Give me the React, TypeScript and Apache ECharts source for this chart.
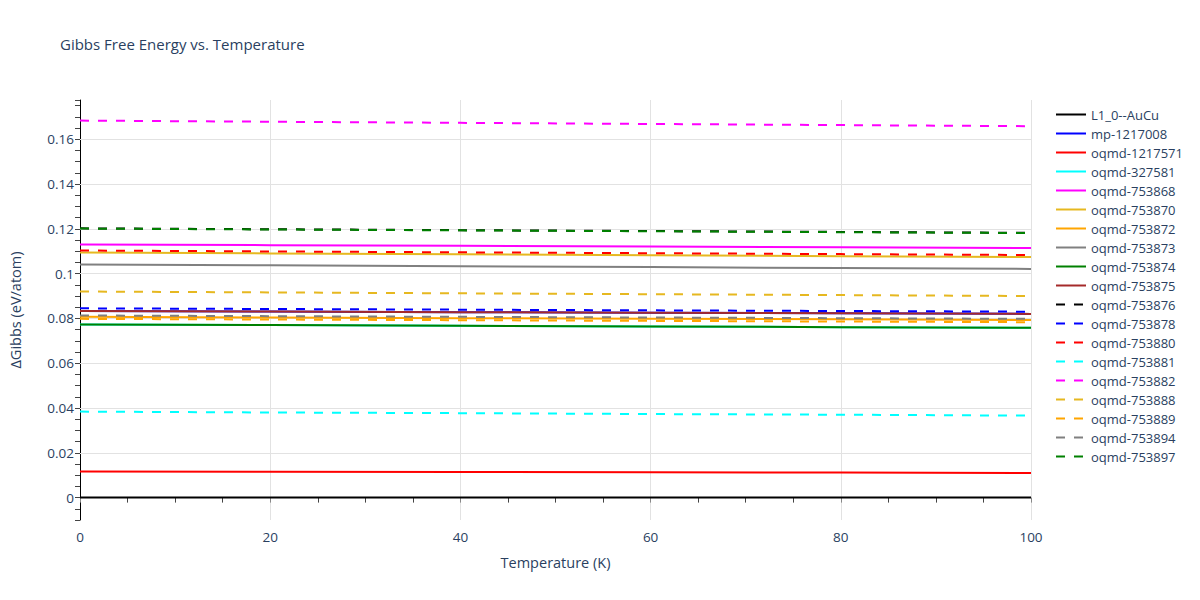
import React, { useEffect, useRef } from "react";
import * as echarts from "echarts";

const temperatures = [0, 20, 40, 60, 80, 100];

const seriesNames = [
  "L1_0--AuCu", "mp-1217008", "oqmd-1217571", "oqmd-327581", "oqmd-753868",
  "oqmd-753870", "oqmd-753872", "oqmd-753873", "oqmd-753874", "oqmd-753875",
  "oqmd-753876", "oqmd-753878", "oqmd-753880", "oqmd-753881", "oqmd-753882",
  "oqmd-753888", "oqmd-753889", "oqmd-753894", "oqmd-753897",
];

const vL1_0_AuCu = [0, 0, 0, 0, 0, 0];
const vMp1217008 = [0.0833, 0.0831, 0.0828, 0.0825, 0.0823, 0.082];
const vOqmd1217571 = [0.0116, 0.0115, 0.0114, 0.0113, 0.0112, 0.011];
const vOqmd327581 = [0.0773, 0.077, 0.0767, 0.0764, 0.0761, 0.0758];
const vOqmd753868 = [0.113, 0.1127, 0.1124, 0.1121, 0.1118, 0.1114];
const vOqmd753870 = [0.1094, 0.109, 0.1086, 0.1082, 0.1078, 0.1074];
const vOqmd753872 = [0.0807, 0.0804, 0.0801, 0.0798, 0.0796, 0.0793];
const vOqmd753873 = [0.1041, 0.1037, 0.1033, 0.1029, 0.1025, 0.1021];
const vOqmd753874 = [0.0773, 0.077, 0.0767, 0.0764, 0.0761, 0.0758];
const vOqmd753875 = [0.0833, 0.0831, 0.0828, 0.0825, 0.0823, 0.082];
const vOqmd753876 = [0.1202, 0.1198, 0.1194, 0.119, 0.1186, 0.1182];
const vOqmd753878 = [0.0845, 0.0842, 0.0839, 0.0836, 0.0833, 0.083];
const vOqmd753880 = [0.1103, 0.1099, 0.1095, 0.1091, 0.1087, 0.1083];
const vOqmd753881 = [0.0384, 0.038, 0.0377, 0.0373, 0.037, 0.0366];
const vOqmd753882 = [0.1683, 0.1678, 0.1673, 0.1668, 0.1663, 0.1658];
const vOqmd753888 = [0.092, 0.0916, 0.0912, 0.0908, 0.0904, 0.09];
const vOqmd753889 = [0.0798, 0.0795, 0.0792, 0.0789, 0.0786, 0.0783];
const vOqmd753894 = [0.0813, 0.081, 0.0807, 0.0804, 0.0801, 0.0798];
const vOqmd753897 = [0.1201, 0.1197, 0.1193, 0.1189, 0.1185, 0.1181];

const seriesValues = [
  vL1_0_AuCu, vMp1217008, vOqmd1217571, vOqmd327581, vOqmd753868,
  vOqmd753870, vOqmd753872, vOqmd753873, vOqmd753874, vOqmd753875,
  vOqmd753876, vOqmd753878, vOqmd753880, vOqmd753881, vOqmd753882,
  vOqmd753888, vOqmd753889, vOqmd753894, vOqmd753897,
];

const palette = [
  "#000000", "#0000ff", "#ff0000", "#00ffff", "#ff00ff",
  "#e6b820", "#ffa500", "#808080", "#008000", "#a52a2a",
];

const yGridValues = [0, 0.02, 0.04, 0.06, 0.08, 0.1, 0.12, 0.14, 0.16];

const TEXT = "#2a3f5f";
const FONT = "'Open Sans', 'Noto Sans', sans-serif";

export default function App() {
  const ref = useRef<HTMLDivElement>(null);
  useEffect(() => {
    if (!ref.current) return;
    const chart = echarts.init(ref.current, null, { renderer: "svg" });
    const series: any[] = seriesNames.map((name, i) => {
      const dashed = i >= 10;
      const color = palette[dashed ? i - 10 : i];
      return {
        name,
        type: "line",
        data: temperatures.map((t, k) => [t, seriesValues[i][k]]),
        symbol: "circle",
        showSymbol: false,
        z: 10,
        color,
        lineStyle: { color, width: 2, type: dashed ? [9, 9] : "solid" },
      };
    });
    series.unshift({
      name: "__grid",
      type: "line",
      data: [],
      z: 1,
      silent: true,
      markLine: {
        silent: true,
        z: 1,
        symbol: "none",
        label: { show: false },
        lineStyle: { color: "#e2e2e2", width: 1, type: "solid" },
        data: yGridValues.map((v) => ({ yAxis: v })),
        animation: false,
      },
    });
    chart.setOption({
      animation: false,
      backgroundColor: "#ffffff",
      textStyle: { fontFamily: FONT },
      title: {
        text: "Gibbs Free Energy vs. Temperature",
        left: 60,
        top: 36,
        padding: 0,
        textStyle: { fontFamily: FONT, fontSize: 15, fontWeight: "normal", color: TEXT },
      },
      legend: {
        orient: "vertical",
        left: 1055,
        top: 108,
        padding: 0,
        itemWidth: 30,
        itemHeight: 14,
        itemGap: 6,
        data: seriesNames,
        itemStyle: { opacity: 0 },
        textStyle: { fontFamily: FONT, fontSize: 13, color: TEXT },
      },
      grid: {
        left: 80,
        right: 169,
        top: 100,
        bottom: 80,
        containLabel: false,
        outerBoundsMode: "none",
      },
      xAxis: {
        type: "value",
        min: 0,
        max: 100,
        interval: 20,
        name: "Temperature (K)",
        nameLocation: "middle",
        nameGap: 35,
        nameTextStyle: { fontFamily: FONT, fontSize: 14.5, color: TEXT },
        axisLine: { show: false },
        axisTick: { show: true, length: 5, lineStyle: { color: "#888" } },
        minorTick: { show: true, splitNumber: 4, length: 5, lineStyle: { color: "#444" } },
        axisLabel: { fontFamily: FONT, fontSize: 13.5, color: TEXT, margin: 10 },
        splitLine: { show: true, lineStyle: { color: "#e2e2e2", width: 1 } },
      },
      yAxis: {
        type: "value",
        min: -0.01,
        max: 0.1775,
        interval: 0.005,
        name: "ΔGibbs (eV/atom)",
        nameLocation: "middle",
        nameGap: 57,
        nameTextStyle: { fontFamily: FONT, fontSize: 14.5, color: TEXT },
        axisLine: { show: true, onZero: false, lineStyle: { color: "#000", width: 1 } },
        axisTick: { show: true, length: 5, interval: 0, lineStyle: { color: "#444" } },
        axisLabel: {
          fontFamily: FONT,
          fontSize: 13.5,
          color: TEXT,
          margin: 6,
          interval: 0,
          hideOverlap: false,
          formatter: (v: number) => {
            const m = Math.round(v * 1000);
            if (m % 20 !== 0) return "";
            return String(parseFloat((m / 1000).toFixed(2)));
          },
        },
        splitLine: { show: false },
      },
      series,
    });
    return () => chart.dispose();
  }, []);
  return (
    <div
      ref={ref}
      style={{ position: "absolute", left: 0, top: 0, width: 1200, height: 600 }}
    />
  );
}
